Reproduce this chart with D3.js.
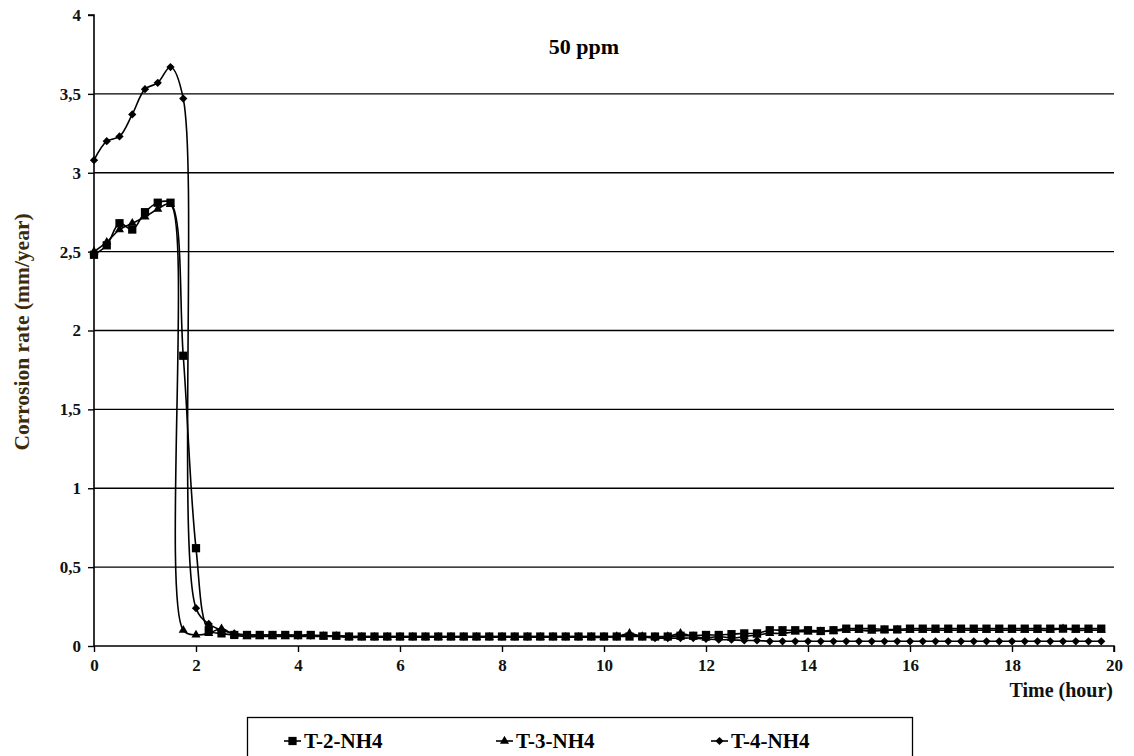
<!DOCTYPE html>
<html>
<head>
<meta charset="utf-8">
<script src="https://cdn.jsdelivr.net/npm/d3@7/dist/d3.min.js"></script>
<style>
  html, body { margin: 0; padding: 0; background: #fff; }
  svg { display: block; }
  text { font-family: "Liberation Serif", "Times New Roman", serif; font-weight: bold; }
</style>
</head>
<body>
<svg id="chart" width="1134" height="756"></svg>
<script>
// ---- data ----
const timeHours = [
  0, 0.25, 0.5, 0.75, 1, 1.25, 1.5, 1.75, 2, 2.25, 2.5, 2.75,
  3, 3.25, 3.5, 3.75, 4, 4.25, 4.5, 4.75, 5, 5.25, 5.5, 5.75,
  6, 6.25, 6.5, 6.75, 7, 7.25, 7.5, 7.75, 8, 8.25, 8.5, 8.75,
  9, 9.25, 9.5, 9.75, 10, 10.25, 10.5, 10.75, 11, 11.25, 11.5, 11.75,
  12, 12.25, 12.5, 12.75, 13, 13.25, 13.5, 13.75, 14, 14.25, 14.5, 14.75,
  15, 15.25, 15.5, 15.75, 16, 16.25, 16.5, 16.75, 17, 17.25, 17.5, 17.75,
  18, 18.25, 18.5, 18.75, 19, 19.25, 19.5, 19.75
];
const seriesT2 = [
  2.48, 2.54, 2.68, 2.64, 2.75, 2.81, 2.81, 1.84, 0.62, 0.10, 0.08, 0.07,
  0.07, 0.07, 0.07, 0.07, 0.07, 0.07, 0.065, 0.065, 0.06, 0.06, 0.06, 0.06,
  0.06, 0.06, 0.06, 0.06, 0.06, 0.06, 0.06, 0.06, 0.06, 0.06, 0.06, 0.06,
  0.06, 0.06, 0.06, 0.06, 0.06, 0.06, 0.06, 0.06, 0.06, 0.06, 0.065, 0.065,
  0.07, 0.07, 0.075, 0.08, 0.08, 0.1, 0.1, 0.1, 0.1, 0.095, 0.1, 0.11,
  0.11, 0.11, 0.105, 0.105, 0.11, 0.11, 0.11, 0.11, 0.11, 0.11, 0.11, 0.11,
  0.11, 0.11, 0.11, 0.11, 0.11, 0.11, 0.11, 0.11
];
const seriesT3 = [
  2.50, 2.56, 2.64, 2.68, 2.72, 2.77, 2.80, 0.10, 0.07, 0.08, 0.11, 0.07,
  0.06, 0.06, 0.06, 0.06, 0.06, 0.06, 0.06, 0.06, 0.055, 0.055, 0.055, 0.055,
  0.055, 0.055, 0.055, 0.055, 0.055, 0.055, 0.055, 0.055, 0.055, 0.055, 0.055, 0.055,
  0.055, 0.055, 0.055, 0.055, 0.055, 0.06, 0.08, 0.06, 0.055, 0.06, 0.08, 0.06,
  0.05, 0.06, 0.05, 0.06, 0.07, 0.08, 0.08, 0.09, 0.09, 0.09, 0.095, 0.1,
  0.1, 0.095, 0.1, 0.1, 0.1, 0.1, 0.1, 0.1, 0.1, 0.1, 0.1, 0.1,
  0.1, 0.1, 0.1, 0.1, 0.11, 0.1, 0.1, 0.1
];
const seriesT4 = [
  3.08, 3.20, 3.23, 3.37, 3.53, 3.57, 3.67, 3.47, 0.24, 0.14, 0.10, 0.08,
  0.07, 0.07, 0.07, 0.07, 0.065, 0.065, 0.065, 0.065, 0.06, 0.06, 0.06, 0.06,
  0.06, 0.06, 0.06, 0.06, 0.06, 0.06, 0.06, 0.06, 0.06, 0.06, 0.06, 0.06,
  0.06, 0.06, 0.06, 0.06, 0.06, 0.06, 0.07, 0.06, 0.05, 0.05, 0.05, 0.05,
  0.045, 0.04, 0.04, 0.035, 0.035, 0.03, 0.03, 0.03, 0.03, 0.03, 0.03, 0.03,
  0.03, 0.03, 0.03, 0.03, 0.03, 0.03, 0.03, 0.03, 0.03, 0.03, 0.03, 0.03,
  0.03, 0.03, 0.03, 0.03, 0.03, 0.03, 0.03, 0.03
];
const seriesNames = ["T-2-NH4", "T-3-NH4", "T-4-NH4"];
const xTicks = [0, 2, 4, 6, 8, 10, 12, 14, 16, 18, 20];
const yTicks = [0, 0.5, 1, 1.5, 2, 2.5, 3, 3.5, 4];
const chartTitle = "50 ppm";
const xTitle = "Time (hour)";
const yTitle = "Corrosion rate (mm/year)";

// ---- layout ----
const svg = d3.select("#chart");
const plotL = 94, plotR = 1114, plotT = 15, plotB = 646;

const x = d3.scaleLinear().domain([0, 20]).range([plotL, plotR]);
const y = d3.scaleLinear().domain([0, 4]).range([plotB, plotT]);

// gridlines
svg.append("g").selectAll("line")
  .data(yTicks.filter(v => v > 0 && v < 4))
  .join("line")
  .attr("x1", plotL).attr("x2", plotR)
  .attr("y1", d => y(d)).attr("y2", d => y(d))
  .attr("stroke", "#000").attr("stroke-width", 1.4);

const fmt = d => String(d).replace(".", ",");

// y axis
const yAxis = svg.append("g")
  .attr("transform", `translate(${plotL},0)`)
  .call(d3.axisLeft(y).tickValues(yTicks).tickFormat(fmt).tickSize(6).tickPadding(7));
yAxis.select(".domain").attr("stroke", "#000").attr("stroke-width", 1.6).attr("d", `M-6,${plotT}H0V${plotB}`);
yAxis.selectAll(".tick line").attr("stroke-width", 1.4);
yAxis.selectAll("text").attr("font-size", 17).attr("fill", "#111")
  .style("font-family", "Liberation Serif").style("font-weight", "bold");

// x axis
const xAxis = svg.append("g")
  .attr("transform", `translate(0,${plotB})`)
  .call(d3.axisBottom(x).tickValues(xTicks).tickSize(6).tickPadding(7));
xAxis.select(".domain").attr("stroke", "#000").attr("stroke-width", 1.6).attr("d", `M${plotL},0H${plotR}V6`);
xAxis.selectAll(".tick line").attr("stroke-width", 1.4);
xAxis.selectAll("text").attr("font-size", 17).attr("fill", "#111")
  .style("font-family", "Liberation Serif").style("font-weight", "bold");

// lines
const allSeries = [seriesT2, seriesT3, seriesT4];
const line = d3.line()
  .x((d, i) => x(timeHours[i]))
  .y(d => y(d))
  .curve(d3.curveCatmullRom.alpha(0.5));

const markerShapes = [
  d3.symbol().type(d3.symbolSquare).size(68),
  d3.symbol().type(d3.symbolTriangle).size(36),
  d3.symbol().type(d3.symbolSquare).size(34)
];
const markerRot = [0, 0, 45];

allSeries.forEach((s, k) => {
  const g = svg.append("g");
  g.append("path").datum(s)
    .attr("d", line)
    .attr("fill", "none").attr("stroke", "#000").attr("stroke-width", 1.6);
  g.selectAll("path.m").data(s).join("path")
    .attr("class", "m")
    .attr("transform", (d, i) => `translate(${x(timeHours[i])},${y(d)}) rotate(${markerRot[k]})`)
    .attr("d", markerShapes[k]())
    .attr("fill", "#000");
});

// titles
svg.append("text").attr("x", 584).attr("y", 54).attr("text-anchor", "middle")
  .attr("font-size", 22).attr("fill", "#000").text(chartTitle);
svg.append("text").attr("x", 1113).attr("y", 697).attr("text-anchor", "end")
  .attr("font-size", 20).attr("fill", "#111").text(xTitle);
svg.append("text").attr("transform", `translate(29,332) rotate(-90)`).attr("text-anchor", "middle")
  .attr("font-size", 21.5).attr("fill", "#3d2a08").text(yTitle);

// legend
const lg = svg.append("g");
lg.append("rect").attr("x", 247.5).attr("y", 717.5).attr("width", 665).attr("height", 50)
  .attr("fill", "#fff").attr("stroke", "#000").attr("stroke-width", 1.3);
const legX = [284, 496, 711];
seriesNames.forEach((name, k) => {
  const cy = 741;
  lg.append("line").attr("x1", legX[k]).attr("x2", legX[k] + 17).attr("y1", cy).attr("y2", cy)
    .attr("stroke", "#000").attr("stroke-width", 1.6);
  lg.append("path").attr("transform", `translate(${legX[k] + 8.5},${cy}) rotate(${markerRot[k]})`)
    .attr("d", markerShapes[k]()).attr("fill", "#000");
  lg.append("text").attr("x", legX[k] + 20).attr("y", cy + 7)
    .attr("font-size", 21).attr("fill", "#000").text(name);
});
</script>
</body>
</html>
